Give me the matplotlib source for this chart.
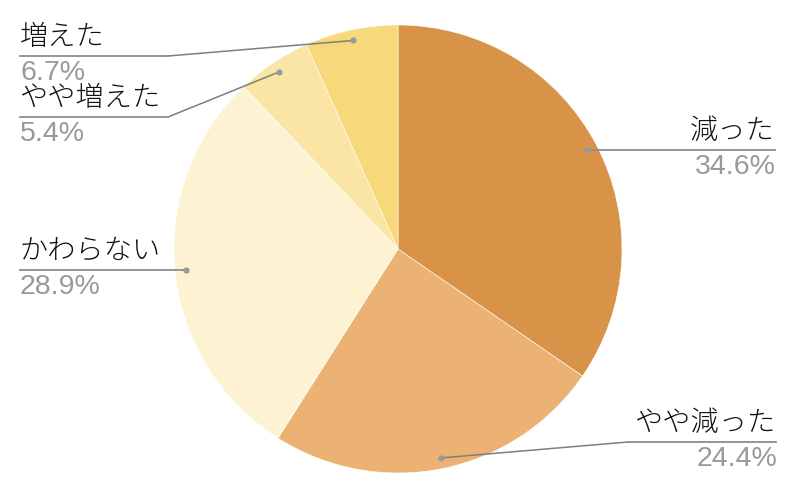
import numpy as np
import matplotlib
matplotlib.use("Agg")
import matplotlib.pyplot as plt

labels = ["減った", "やや減った", "かわらない", "やや増えた", "増えた"]
shares = [34.6, 24.4, 28.9, 5.4, 6.7]
pct_labels = ["34.6%", "24.4%", "28.9%", "5.4%", "6.7%"]
colors = ["#D99349", "#EBB274", "#FDF3D3", "#FBE5A5", "#F7D87A"]

W, H = 800, 495
def py(y):
    # pixel row (from top) -> data y
    return H - y

# label layout: side, elbow point (None = straight line), line end x
layout = [
    ("right", None, 775),
    ("right", (628, 442), 776),
    ("left", None, 20),
    ("left", (168, 117), 20),
    ("left", (168, 56), 20),
]

fig = plt.figure(figsize=(8, 4.95), dpi=100)
ax = fig.add_axes([0, 0, 1, 1])

cx, cy, R = 398, py(249), 224
wedges, _ = ax.pie(shares, colors=colors, startangle=90, counterclock=False,
                   center=(cx, cy), radius=R,
                   wedgeprops=dict(edgecolor="white", linewidth=0.4))

for w, lab, pct, (side, elbow, xend) in zip(wedges, labels, pct_labels, layout):
    th = np.deg2rad((w.theta1 + w.theta2) / 2)
    dx = cx + 0.952 * R * np.cos(th)
    dy = cy + 0.952 * R * np.sin(th)
    if elbow is None:
        ex, ey = xend, dy
        ax.plot([dx, xend], [dy, dy], color="#8c8c8c", lw=1.3, zorder=3)
    else:
        ex, ey = elbow[0], py(elbow[1])
        ax.plot([dx, ex], [dy, ey], color="#7f7f7f", lw=1.1, zorder=3)
        ax.plot([ex, xend], [ey, ey], color="#8c8c8c", lw=1.3, zorder=3)
    ax.plot([dx], [dy], "o", ms=4.5, color="#999999", mec="none", zorder=4)
    ha = "right" if side == "right" else "left"
    ax.text(xend, ey + 4, lab, ha=ha, va="bottom", fontsize=20.3, color="#111111",
            family=["Noto Sans CJK JP", "DejaVu Sans"], fontweight="light")
    ax.text(xend + (1 if side == "right" else 0), ey - 4, pct, ha=ha, va="top",
            fontsize=20.5, color="#999999", family="Liberation Sans")

ax.set_xlim(0, W)
ax.set_ylim(0, H)
ax.set_aspect("equal")
ax.axis("off")
fig.savefig("out.png", dpi=100)
